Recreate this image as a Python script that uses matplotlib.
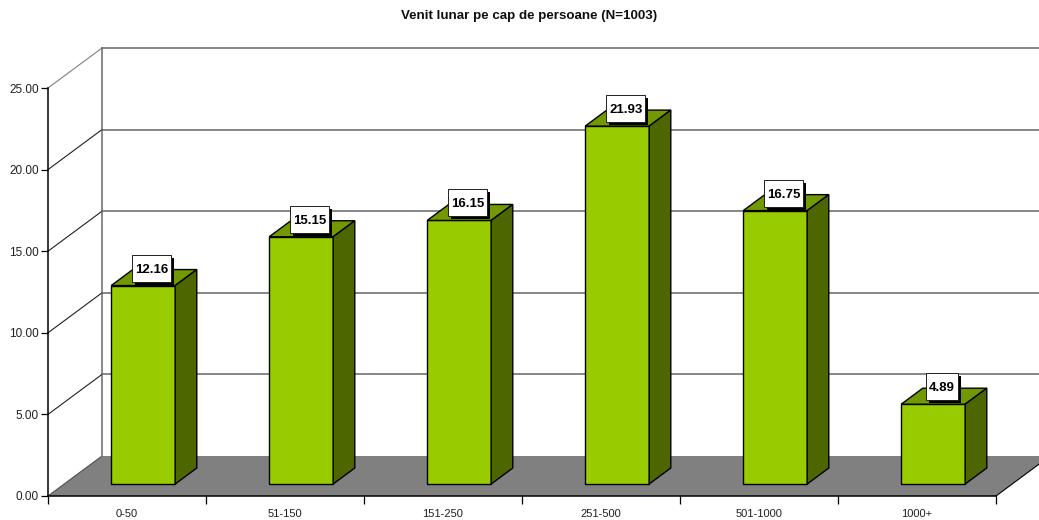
import matplotlib
matplotlib.use('Agg')
import matplotlib.pyplot as plt
from matplotlib.patches import Polygon, Rectangle
from matplotlib.transforms import IdentityTransform

plt.rcParams['font.family'] = ['Liberation Sans', 'DejaVu Sans']

categories = ['0-50', '51-150', '151-250', '251-500', '501-1000', '1000+']
values = [12.16, 15.15, 16.15, 21.93, 16.75, 4.89]
y_ticks = [0, 5, 10, 15, 20, 25]

# 3D look: depth of the box in data units
depth_x = 54 / 158
depth_y = 40 / 16.32
bar_width = 0.405
front = 0.3   # bar front as a share of the depth
back = 0.7    # bar back

GREEN = '#99CC00'
GREEN_TOP = '#739900'
GREEN_SIDE = '#4D6600'
FLOOR = '#808080'
GRID = '#666666'

fig = plt.figure(figsize=(10.39, 5.20), dpi=100)
ax = fig.add_axes([48 / 1039, 24 / 520, 948 / 1039, 408 / 520])
ax.set_xlim(0, 6)
ax.set_ylim(0, 25)
ax.patch.set_alpha(0)

# floor
ax.add_patch(Polygon([(0, 0), (6, 0), (6 + depth_x, depth_y), (depth_x, depth_y)],
                     closed=True, fc=FLOOR, ec='none', clip_on=False, zorder=1))
ax.plot([6, 6 + depth_x], [0, depth_y], color='black', lw=0.8, clip_on=False, zorder=1.5)
ax.plot([0, depth_x], [0, depth_y], color='#505050', lw=0.8, clip_on=False, zorder=1.5)

# back wall and grid
ax.plot([depth_x, depth_x], [depth_y, 25 + depth_y], color=FLOOR, lw=1.3, clip_on=False, zorder=1.5)
for t in y_ticks[1:]:
    side_col = FLOOR if t == 25 else '#202020'
    ax.plot([0, depth_x], [t, t + depth_y], color=side_col, lw=0.8, clip_on=False, zorder=1.5)
    ax.plot([depth_x, 6 + depth_x], [t + depth_y, t + depth_y], color=GRID, lw=1.1,
            clip_on=False, zorder=1.5)

# axes
for s in ['top', 'right']:
    ax.spines[s].set_visible(False)
for s in ['left', 'bottom']:
    ax.spines[s].set_linewidth(1.1)
    ax.spines[s].set_zorder(2)
ax.set_yticks(y_ticks)
ax.set_yticklabels([f'{t:.2f}' for t in y_ticks], fontsize=8.5, color='#202020')
ax.set_xticks(range(7))
ax.set_xticklabels([])
ax.set_xticks([i + 0.5 for i in range(6)], categories, minor=True, fontsize=8, color='#202020')
ax.tick_params(axis='x', which='minor', length=0, pad=9.5)
ax.tick_params(axis='x', which='major', length=5.5, width=0.9)
ax.tick_params(axis='y', length=5, width=0.9, pad=1.5)

fig.text(529 / 1039, 1 - 16.5 / 520, 'Venit lunar pe cap de persoane (N=1003)',
         ha='center', va='center', fontsize=9.6, fontweight='bold', color='#101010')

renderer = fig.canvas.get_renderer()

# bars
for i, v in enumerate(values):
    x0 = i + 0.5 - bar_width / 2 + front * depth_x
    x1 = x0 + bar_width
    y0 = front * depth_y
    y1 = y0 + v
    dx = (back - front) * depth_x
    dy = (back - front) * depth_y
    ax.add_patch(Polygon([(x0, y0), (x1, y0), (x1, y1), (x0, y1)], closed=True,
                         fc=GREEN, ec='black', lw=1, clip_on=False, zorder=3))
    ax.add_patch(Polygon([(x0, y1), (x1, y1), (x1 + dx, y1 + dy), (x0 + dx, y1 + dy)], closed=True,
                         fc=GREEN_TOP, ec='black', lw=1, clip_on=False, zorder=3))
    ax.add_patch(Polygon([(x1, y0), (x1 + dx, y0 + dy), (x1 + dx, y1 + dy), (x1, y1)], closed=True,
                         fc=GREEN_SIDE, ec='black', lw=1, clip_on=False, zorder=3))

    # value label: white box with a hard shadow, sized from the text in pixels
    px, py = ax.transData.transform(((x0 + x1) / 2, y1))
    px += 8.5
    py += 17.5
    label = ax.text(px, py - 1.5, f'{v:.2f}', transform=IdentityTransform(), ha='center', va='center',
                    fontsize=9.5, fontweight='bold', color='black', zorder=6, clip_on=False)
    w = label.get_window_extent(renderer).width + 6
    h = 27
    ax.add_patch(Rectangle((px - w / 2 + 3, py - h / 2 - 3), w, h, transform=IdentityTransform(),
                           fc='black', ec='none', clip_on=False, zorder=4))
    ax.add_patch(Rectangle((px - w / 2, py - h / 2), w, h, transform=IdentityTransform(),
                           fc='white', ec='#202020', lw=0.7, clip_on=False, zorder=5))

fig.savefig('out.png', dpi=100)
